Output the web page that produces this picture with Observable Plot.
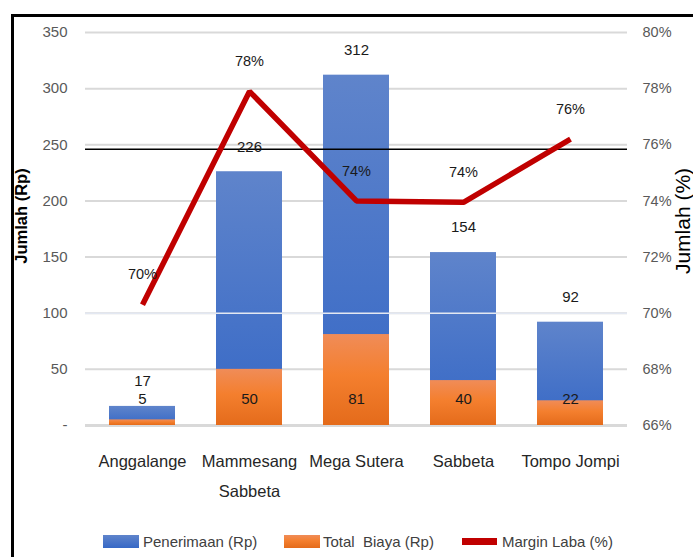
<!DOCTYPE html>
<html>
<head>
<meta charset="utf-8">
<script src="https://cdn.jsdelivr.net/npm/d3@7"></script>
<script src="https://cdn.jsdelivr.net/npm/@observablehq/plot@0.6"></script>
<style>
  html, body { margin: 0; padding: 0; background: #fff; overflow: hidden; }
  #wrap { position: relative; width: 693px; height: 557px; overflow: hidden; background: #fff;
          font-family: "Liberation Sans", Arial, sans-serif; }
  #frame { position: absolute; left: 11px; top: 14px; width: 800px; height: 700px;
           border-left: 3px solid #000; border-top: 3px solid #000; pointer-events: none; }
  #chart { position: absolute; left: 0; top: 0; }
  .lg { position: absolute; font-size: 15px; color: #404040; white-space: pre; line-height: 15px; }
  .sw { position: absolute; }
</style>
</head>
<body>
<div id="wrap">
  <div id="chart"></div>
  <div id="legend"></div>
  <div id="frame"></div>
</div>
<script>
// ---- data ----
const categories = ["Anggalange", "Mammesang Sabbeta", "Mega Sutera", "Sabbeta", "Tompo Jompi"];
const xTickLabels = ["Anggalange", "Mammesang\nSabbeta", "Mega Sutera", "Sabbeta", "Tompo Jompi"];
const penerimaan = [17, 226, 312, 154, 92];
const totalBiaya = [5, 50, 81, 40, 22];
const marginLaba = [70.3, 77.9, 74.0, 73.95, 76.2];
const marginLabels = ["70%", "78%", "74%", "74%", "76%"];
const leftTicks = [0, 50, 100, 150, 200, 250, 300, 350];
const leftTickLabels = ["-", "50", "100", "150", "200", "250", "300", "350"];
const rightTickLabels = ["66%", "68%", "70%", "72%", "74%", "76%", "78%", "80%"];
const rightDomain = [66, 80];
const referenceLine = [246];
const legendLabels = ["Penerimaan (Rp)", "Total  Biaya (Rp)", "Margin Laba (%)"];

const leftDomain = [0, 350];
// map right-axis percentage onto the left (Rp) scale
const toLeft = p => leftDomain[0] + (p - rightDomain[0]) / (rightDomain[1] - rightDomain[0]) * (leftDomain[1] - leftDomain[0]);

const data = categories.map((c, i) => ({
  cat: c, pen: penerimaan[i], biaya: totalBiaya[i], margin: marginLaba[i], mlabel: marginLabels[i]
}));

const defs = () => {
  const g = d3.create("svg:defs");
  const blue = g.append("linearGradient").attr("id", "gBlue").attr("x1", 0).attr("y1", 0).attr("x2", 0).attr("y2", 1);
  blue.append("stop").attr("offset", "0%").attr("stop-color", "#5f84cb");
  blue.append("stop").attr("offset", "100%").attr("stop-color", "#3668c6");
  const or = g.append("linearGradient").attr("id", "gOrange").attr("x1", 0).attr("y1", 0).attr("x2", 0).attr("y2", 1);
  or.append("stop").attr("offset", "0%").attr("stop-color", "#f08c58");
  or.append("stop").attr("offset", "45%").attr("stop-color", "#f47f2e");
  or.append("stop").attr("offset", "100%").attr("stop-color", "#e46b1b");
  return g.node();
};

const chart = Plot.plot({
  width: 693,
  height: 520,
  marginTop: 32,
  marginBottom: 95,
  marginLeft: 85,
  marginRight: 66,
  style: { fontFamily: "Liberation Sans, Arial, sans-serif", background: "transparent" },
  x: { domain: categories, paddingInner: 0.38, paddingOuter: 0.2 },
  y: { domain: leftDomain },
  marks: [
    defs,
    Plot.ruleY(leftTicks.slice(1), { stroke: "#d9d9d9", strokeWidth: 2 }),
    Plot.ruleY([leftTicks[0]], { stroke: "#d9d9d9", strokeWidth: 3 }),
    Plot.barY(data, { x: "cat", y: "pen", fill: "url(#gBlue)" }),
    Plot.barY(data, { x: "cat", y: "biaya", fill: "url(#gOrange)" }),
    Plot.ruleY([leftTicks[2]], { stroke: "#e3e8f2", strokeWidth: 1.5 }),
    Plot.ruleY(referenceLine, { stroke: "#000", strokeWidth: 1.5 }),
    Plot.lineY(data, { x: "cat", y: d => toLeft(d.margin), stroke: "#c00000", strokeWidth: 5.5,
                       strokeLinejoin: "miter", strokeLinecap: "butt" }),
    Plot.text(data, { x: "cat", y: "pen", text: d => String(d.pen), dy: -25, fontSize: 15, fill: "#1a1a1a" }),
    Plot.text(data, { x: "cat", frameAnchor: "bottom", text: d => String(d.biaya), dy: -22, fontSize: 15, fill: "#1a1a1a" }),
    Plot.text(data, { x: "cat", y: d => toLeft(d.margin), text: "mlabel", dy: -30, fontSize: 14.5, fill: "#1a1a1a" }),
    Plot.axisX({ tickSize: 0, tickPadding: 20, fontSize: 16.5, lineHeight: 1.82, fill: "#262626", label: null,
                 tickFormat: d => xTickLabels[categories.indexOf(d)] }),
    Plot.axisY({ anchor: "left", ticks: leftTicks, tickSize: 0, tickPadding: 18, fontSize: 15, fill: "#595959", label: null,
                 tickFormat: d => leftTickLabels[leftTicks.indexOf(d)] }),
    Plot.axisY({ anchor: "right", ticks: leftTicks, tickSize: 0, tickPadding: 15, fontSize: 14.5, fill: "#595959", label: null,
                 tickFormat: d => rightTickLabels[leftTicks.indexOf(d)] }),
    Plot.text(["Jumlah (Rp)"], { frameAnchor: "top-left", text: d => d, rotate: -90, dx: -59, dy: 183.5,
                 lineAnchor: "bottom", textAnchor: "middle", fontSize: 16.5, fontWeight: "bold", fill: "#000" }),
    Plot.text(["Jumlah (%)"], { frameAnchor: "top-right", text: d => d, rotate: -90, dx: 62, dy: 188.5,
                 lineAnchor: "bottom", textAnchor: "middle", fontSize: 21, fill: "#000" })
  ]
});
document.getElementById("chart").appendChild(chart);

// ---- legend (HTML, below the SVG area) ----
const legend = document.getElementById("legend");
const items = [
  { sw: { left: 103, top: 535, w: 36, h: 13, bg: "linear-gradient(#5f84cb, #3668c6)" }, text: legendLabels[0], left: 143 },
  { sw: { left: 284, top: 535, w: 36, h: 13, bg: "linear-gradient(#f08c58, #f47f2e 45%, #e46b1b)" }, text: legendLabels[1], left: 323 },
  { sw: { left: 462, top: 538, w: 35, h: 7, bg: "#c00000" }, text: legendLabels[2], left: 502 }
];
items.forEach(it => {
  const s = document.createElement("div");
  s.className = "sw";
  Object.assign(s.style, { left: it.sw.left + "px", top: it.sw.top + "px", width: it.sw.w + "px", height: it.sw.h + "px", background: it.sw.bg });
  legend.appendChild(s);
  const t = document.createElement("div");
  t.className = "lg";
  t.textContent = it.text;
  Object.assign(t.style, { left: it.left + "px", top: "534px" });
  legend.appendChild(t);
});
</script>
</body>
</html>
